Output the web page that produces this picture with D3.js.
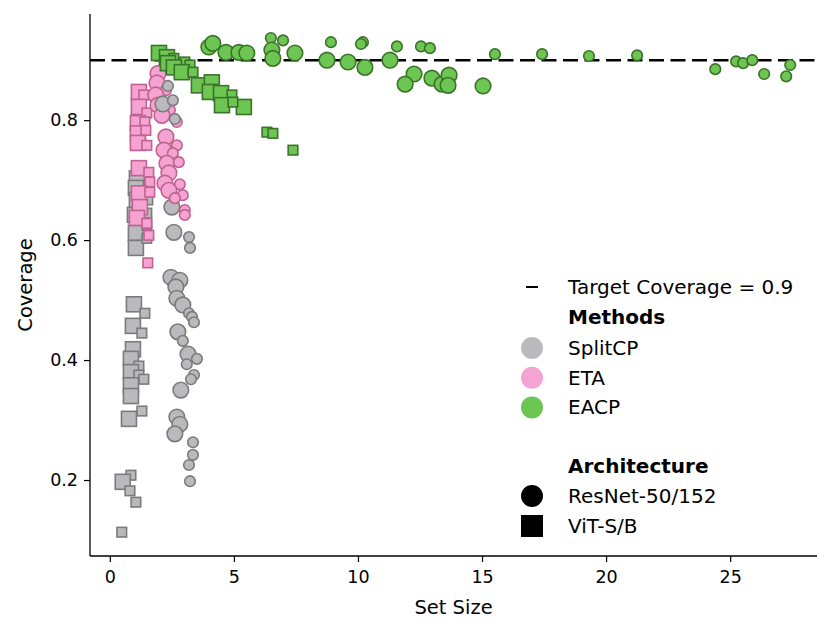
<!DOCTYPE html>
<html lang="en">
<head>
  <meta charset="UTF-8">
  <title>Coverage vs Set Size</title>
  <script src="https://d3js.org/d3.v7.min.js"></script>
  <style>
    body { margin: 0; background: #fff; }
    text { font-family: "DejaVu Sans", sans-serif; fill: #000; }
  </style>
</head>
<body>
<svg id="chart" width="831" height="633"></svg>
<script>
// [set size, coverage, big?]  big = 1 for the larger marker
const splitcpResNet = [
  [2.14, 0.827, 1], [2.34, 0.857, 0], [2.54, 0.833, 0], [2.62, 0.802, 0],
  [2.50, 0.655, 1], [2.58, 0.613, 1], [3.19, 0.605, 0],
  [3.23, 0.587, 0], [2.46, 0.538, 1], [2.82, 0.533, 1], [2.66, 0.522, 1],
  [2.70, 0.503, 1], [2.94, 0.492, 1], [3.19, 0.478, 0], [3.31, 0.472, 0],
  [3.39, 0.463, 0], [2.74, 0.447, 1], [2.94, 0.432, 0], [3.15, 0.410, 1],
  [3.51, 0.402, 0], [3.10, 0.393, 0], [3.39, 0.375, 0], [3.27, 0.368, 0],
  [2.86, 0.350, 1], [2.70, 0.305, 1], [2.82, 0.293, 1], [2.62, 0.277, 1],
  [3.35, 0.263, 0], [3.35, 0.242, 0], [3.19, 0.225, 0], [3.23, 0.198, 0]
];
const splitcpViT = [
  [1.09, 0.703, 1], [1.05, 0.687, 1], [1.09, 0.667, 1], [1.01, 0.642, 1],
  [1.05, 0.612, 1], [1.05, 0.587, 1], [1.53, 0.667, 0], [1.49, 0.645, 0],
  [1.49, 0.625, 0], [1.49, 0.603, 0], [0.97, 0.493, 1], [1.41, 0.478, 0],
  [0.93, 0.457, 1], [1.29, 0.445, 0], [0.93, 0.418, 1], [0.85, 0.402, 1],
  [1.17, 0.390, 0], [0.85, 0.380, 1], [1.17, 0.375, 0], [1.37, 0.368, 0],
  [0.85, 0.358, 1], [0.85, 0.340, 1], [1.29, 0.315, 0], [0.77, 0.302, 1],
  [0.85, 0.208, 0], [0.52, 0.197, 1], [0.81, 0.182, 0], [1.05, 0.163, 0],
  [0.48, 0.113, 0]
];
const etaViT = [
  [1.17, 0.847, 1], [1.37, 0.842, 0], [1.17, 0.822, 1], [1.49, 0.812, 0],
  [1.13, 0.795, 1], [1.41, 0.797, 0], [1.13, 0.778, 1], [1.45, 0.783, 0],
  [1.13, 0.762, 1], [1.49, 0.758, 0], [1.17, 0.720, 1], [1.57, 0.713, 0],
  [1.61, 0.697, 0], [1.17, 0.678, 1], [1.61, 0.680, 0], [1.21, 0.655, 1],
  [1.09, 0.637, 1], [1.49, 0.628, 0], [1.57, 0.608, 0], [1.53, 0.562, 0]
];
const etaResNet = [
  [1.94, 0.878, 1], [1.90, 0.862, 1], [2.26, 0.850, 0], [1.85, 0.842, 1],
  [1.94, 0.825, 1], [2.42, 0.817, 0], [2.10, 0.808, 1], [2.70, 0.797, 0],
  [2.26, 0.772, 1], [2.70, 0.758, 0], [2.18, 0.750, 1], [2.54, 0.745, 0],
  [2.30, 0.728, 1], [2.78, 0.730, 0], [2.38, 0.712, 1], [2.22, 0.695, 1],
  [2.82, 0.693, 0], [2.38, 0.683, 1], [2.94, 0.675, 0], [2.62, 0.670, 0],
  [3.02, 0.650, 0], [3.02, 0.642, 0]
];
const eacpViT = [
  [1.98, 0.912, 1], [2.30, 0.905, 1], [2.58, 0.903, 0], [2.34, 0.895, 1],
  [3.02, 0.897, 0], [2.58, 0.888, 1], [3.23, 0.892, 0], [2.90, 0.880, 1],
  [3.35, 0.880, 0], [3.59, 0.858, 1], [4.11, 0.863, 1], [4.03, 0.847, 1],
  [4.48, 0.845, 1], [4.92, 0.842, 0], [4.52, 0.825, 1], [5.40, 0.822, 1],
  [4.96, 0.830, 0], [6.33, 0.780, 0], [6.57, 0.778, 0], [7.38, 0.750, 0]
];
const eacpResNet = [
  [3.99, 0.922, 1], [4.15, 0.928, 1], [4.68, 0.913, 1], [5.20, 0.913, 1],
  [5.52, 0.912, 1], [6.49, 0.937, 0], [6.98, 0.933, 0], [6.53, 0.917, 1],
  [6.57, 0.903, 1], [7.46, 0.912, 1], [8.91, 0.930, 0], [10.20, 0.930, 0],
  [10.12, 0.927, 0], [8.75, 0.900, 1], [9.60, 0.897, 1], [10.28, 0.888, 1],
  [11.29, 0.900, 1], [11.57, 0.923, 0], [12.54, 0.923, 0], [12.90, 0.920, 0],
  [12.26, 0.877, 1], [11.90, 0.860, 1], [12.98, 0.870, 1], [13.39, 0.860, 1],
  [13.67, 0.875, 1], [13.63, 0.858, 1], [15.04, 0.857, 1], [15.52, 0.910, 0],
  [17.42, 0.910, 0], [19.31, 0.907, 0], [21.25, 0.908, 0], [24.40, 0.885, 0],
  [25.24, 0.898, 0], [25.52, 0.895, 0], [25.89, 0.900, 0], [26.37, 0.877, 0],
  [27.26, 0.873, 0], [27.42, 0.892, 0]
];
const targetCoverage = 0.9;
const xTicks = [0, 5, 10, 15, 20, 25];
const yTicks = [0.2, 0.4, 0.6, 0.8];
const methods = ["SplitCP", "ETA", "EACP"];
const architectures = ["ResNet-50/152", "ViT-S/B"];

const colors = {
  SplitCP: { fill: "#bab9bd", edge: "#7b7b7b" },
  ETA: { fill: "#f4a3d3", edge: "#c0638f" },
  EACP: { fill: "#6dc553", edge: "#3b7428" }
};

const svg = d3.select("#chart");
const margin = { left: 90, right: 14, top: 14, bottom: 77 };
const W = 831, H = 633;

const x = d3.scaleLinear().domain([-0.8, 28.5]).range([margin.left, W - margin.right]);
const y = d3.scaleLinear().domain([0.0733, 0.977]).range([H - margin.bottom, margin.top]);

// axes
const xAxis = svg.append("g")
  .attr("transform", `translate(0,${H - margin.bottom})`)
  .call(d3.axisBottom(x).tickValues(xTicks).tickSize(6).tickPadding(9).tickFormat(d3.format("d")));
const yAxis = svg.append("g")
  .attr("transform", `translate(${margin.left},0)`)
  .call(d3.axisLeft(y).tickValues(yTicks).tickSize(6).tickPadding(6).tickFormat(d3.format(".1f")));
[xAxis, yAxis].forEach(g => {
  g.selectAll("text").style("font-size", "17.5px").style("font-family", "DejaVu Sans");
  g.selectAll("line").attr("stroke", "#000").attr("stroke-width", 1.2);
  g.select(".domain").attr("stroke", "#000").attr("stroke-width", 1.3);
});
// spine ends exactly at the plot corners
xAxis.select(".domain").attr("d", `M${margin.left},0H${W - margin.right}`);
yAxis.select(".domain").attr("d", `M0,${H - margin.bottom}V${margin.top}`);

svg.append("text")
  .attr("x", (margin.left + W - margin.right) / 2).attr("y", 614)
  .attr("text-anchor", "middle").style("font-size", "19.5px").text("Set Size");
svg.append("text")
  .attr("transform", `translate(32,${(margin.top + H - margin.bottom) / 2}) rotate(-90)`)
  .attr("text-anchor", "middle").style("font-size", "19.5px").text("Coverage");

// target line
svg.append("line")
  .attr("x1", margin.left).attr("x2", W - margin.right)
  .attr("y1", y(targetCoverage)).attr("y2", y(targetCoverage))
  .attr("stroke", "#000").attr("stroke-width", 2.6).attr("stroke-dasharray", "15,6.5");

const plot = svg.append("g");

function drawCircles(data, method) {
  plot.append("g").selectAll("circle").data(data).join("circle")
    .attr("cx", d => x(d[0])).attr("cy", d => y(d[1]))
    .attr("r", d => d[2] ? 7.8 : 5.3)
    .attr("fill", colors[method].fill)
    .attr("stroke", colors[method].edge).attr("stroke-width", 1.6);
}
function drawSquares(data, method) {
  plot.append("g").selectAll("rect").data(data).join("rect")
    .attr("x", d => x(d[0]) - (d[2] ? 7.5 : 4.8))
    .attr("y", d => y(d[1]) - (d[2] ? 7.5 : 4.8))
    .attr("width", d => d[2] ? 15 : 9.6)
    .attr("height", d => d[2] ? 15 : 9.6)
    .attr("fill", colors[method].fill)
    .attr("stroke", colors[method].edge).attr("stroke-width", 1.6);
}

drawSquares(splitcpViT, "SplitCP");
drawSquares(etaViT, "ETA");
drawCircles(splitcpResNet.filter(d => d[1] < 0.7), "SplitCP");
drawCircles(etaResNet, "ETA");
drawCircles(splitcpResNet.filter(d => d[1] >= 0.7), "SplitCP");
drawSquares(eacpViT, "EACP");
drawCircles(eacpResNet, "EACP");

// legend
const lg = svg.append("g");
const lx = 532, tx = 568, fs = "20px";
lg.append("line").attr("x1", lx - 6).attr("x2", lx + 6).attr("y1", 287).attr("y2", 287)
  .attr("stroke", "#000").attr("stroke-width", 2);
lg.append("text").attr("x", tx).attr("y", 287).attr("dy", "0.35em")
  .style("font-size", fs).text(`Target Coverage = ${targetCoverage}`);
lg.append("text").attr("x", tx).attr("y", 317).attr("dy", "0.35em")
  .style("font-size", fs).style("font-weight", "bold").text("Methods");
methods.forEach((m, i) => {
  const yy = 348 + i * 29.7;
  lg.append("circle").attr("cx", lx).attr("cy", yy).attr("r", 11).attr("fill", colors[m].fill);
  lg.append("text").attr("x", tx).attr("y", yy).attr("dy", "0.35em")
    .style("font-size", fs).text(m);
});
lg.append("text").attr("x", tx).attr("y", 466).attr("dy", "0.35em")
  .style("font-size", fs).style("font-weight", "bold").text("Architecture");
lg.append("circle").attr("cx", lx).attr("cy", 496).attr("r", 11).attr("fill", "#000");
lg.append("text").attr("x", tx).attr("y", 496).attr("dy", "0.35em")
  .style("font-size", fs).text(architectures[0]);
lg.append("rect").attr("x", lx - 11).attr("y", 526 - 11).attr("width", 22).attr("height", 22).attr("fill", "#000");
lg.append("text").attr("x", tx).attr("y", 526).attr("dy", "0.35em")
  .style("font-size", fs).text(architectures[1]);
</script>
</body>
</html>
